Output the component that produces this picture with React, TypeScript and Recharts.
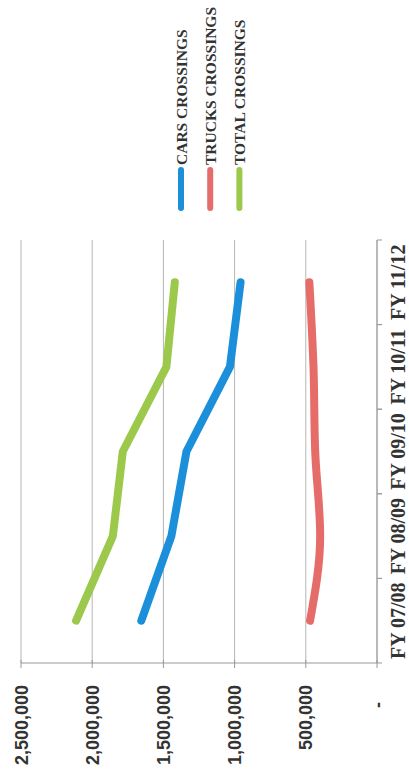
import { CartesianGrid, Legend, Line, LineChart, XAxis, YAxis } from 'recharts'

const years = ['FY 07/08', 'FY 08/09', 'FY 09/10', 'FY 10/11', 'FY 11/12']
const seriesNames = ['CARS CROSSINGS', 'TRUCKS CROSSINGS', 'TOTAL CROSSINGS']
const cars = [1655000, 1444000, 1338000, 1033000, 958000]
const trucks = [470000, 399000, 434000, 446000, 475000]
const total = [2113000, 1855000, 1785000, 1479000, 1420000]
const valueTicks = [0, 500000, 1000000, 1500000, 2000000, 2500000]

const data = years.map((year, i) => ({ year, cars: cars[i], trucks: trucks[i], total: total[i] }))

const BAND = 42.3
const INK = '#333'

function YearTick({ x, y, payload }: any) {
  const tx = x + 28
  return (
    <g>
      <line x1={x} x2={x + 5} y1={y - BAND} y2={y - BAND} stroke="#999" />
      <line x1={x} x2={x + 5} y1={y + BAND} y2={y + BAND} stroke="#999" />
      <text x={tx} y={y} transform={`rotate(-90, ${tx}, ${y})`} textAnchor="middle"
        fontFamily="'Liberation Serif', serif" fontWeight="bold" fontSize={20} fill={INK}>
        {payload.value}
      </text>
    </g>
  )
}

function ValueTick({ x, y, payload }: any) {
  const tx = x + 6.5
  const zero = payload.value === 0
  const ty = zero ? y + 39 : y + 22
  return (
    <g>
      <line x1={x} x2={x} y1={y - 3} y2={y + 5} stroke="#999" />
      <text x={tx} y={ty} transform={`rotate(-90, ${tx}, ${ty})`} textAnchor="end"
        fontFamily="'Liberation Sans', sans-serif" fontWeight="bold" fontSize={18} fill={INK}>
        {zero ? '-' : payload.value.toLocaleString('en-US')}
      </text>
    </g>
  )
}

function LegendBox({ payload }: any) {
  const items = [...(payload || [])].sort(
    (a: any, b: any) => seriesNames.indexOf(a.value) - seriesNames.indexOf(b.value))
  return (
    <svg width={409} height={230}>
      {items.map((p: any, i: number) => {
        const cx = 181 + i * 29.2
        const tx = cx + 5.5
        return (
          <g key={p.value}>
            <line x1={cx} x2={cx} y1={170} y2={208} stroke={p.color} strokeWidth={6} strokeLinecap="round" />
            <text x={tx} y={165} transform={`rotate(-90, ${tx}, 165)`} textAnchor="start"
              fontFamily="'Liberation Serif', serif" fontWeight="bold" fontSize={15.5} fill={INK}>
              {p.value}
            </text>
          </g>
        )
      })}
    </svg>
  )
}

export default function App() {
  return (
    <div style={{ position: 'absolute', left: 0, top: 0, background: '#fff' }}>
      <LineChart width={409} height={773} data={data} layout="vertical"
        margin={{ top: 240, right: 2, bottom: 20, left: 21 }}>
        <CartesianGrid horizontal={false} stroke="#b5b5b5" />
        <XAxis type="number" domain={[0, 2500000]} ticks={valueTicks} reversed
          height={90} tickSize={0} tickMargin={0} tickLine={false}
          axisLine={{ stroke: '#999' }} tick={<ValueTick />} interval={0} />
        <YAxis type="category" dataKey="year" orientation="right" reversed
          width={30} tickSize={0} tickMargin={0} tickLine={false}
          padding={{ top: BAND, bottom: BAND }}
          axisLine={{ stroke: '#999' }} tick={<YearTick />} interval={0} />
        <Legend layout="horizontal" verticalAlign="middle" align="center"
          wrapperStyle={{ position: 'absolute', left: 0, top: 0, width: 409, height: 230 }}
          content={<LegendBox />} />
        <Line dataKey="cars" name={seriesNames[0]} stroke="#1b8fda" strokeWidth={8}
          strokeLinecap="round" strokeLinejoin="round" dot={false} isAnimationActive={false} />
        <Line dataKey="trucks" name={seriesNames[1]} type="monotone" stroke="#e56c69" strokeWidth={8}
          strokeLinecap="round" strokeLinejoin="round" dot={false} isAnimationActive={false} />
        <Line dataKey="total" name={seriesNames[2]} stroke="#9cc94c" strokeWidth={8}
          strokeLinecap="round" strokeLinejoin="round" dot={false} isAnimationActive={false} />
      </LineChart>
    </div>
  )
}
